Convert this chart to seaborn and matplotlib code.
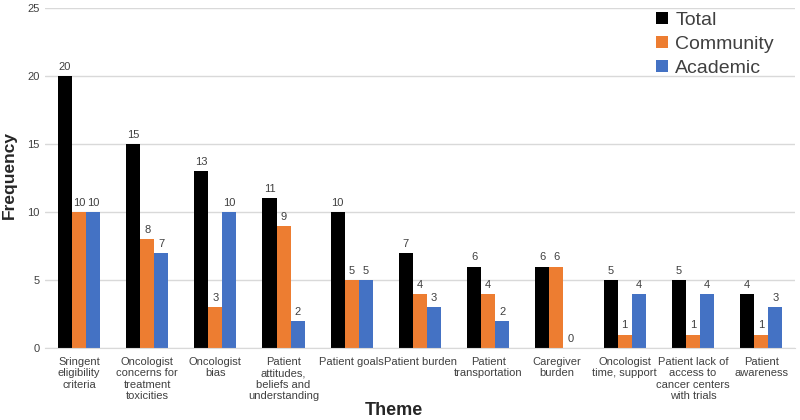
import pandas as pd
import numpy as np
import seaborn as sns
import matplotlib.pyplot as plt

themes = ["Sringent\neligibility\ncriteria", "Oncologist\nconcerns for\ntreatment\ntoxicities",
          "Oncologist\nbias", "Patient\nattitudes,\nbeliefs and\nunderstanding", "Patient goals",
          "Patient burden", "Patient\ntransportation", "Caregiver\nburden",
          "Oncologist\ntime, support", "Patient lack of\naccess to\ncancer centers\nwith trials",
          "Patient\nawareness"]
total = [20, 15, 13, 11, 10, 7, 6, 6, 5, 5, 4]
community = [10, 8, 3, 9, 5, 4, 4, 6, 1, 1, 1]
academic = [10, 7, 10, 2, 5, 3, 2, 0, 4, 4, 3]
groups = ["Total", "Community", "Academic"]
colors = ["#000000", "#ED7D31", "#4472C4"]

df = pd.DataFrame({"Theme": themes, "Total": total, "Community": community, "Academic": academic})
df = df.melt(id_vars="Theme", var_name="Group", value_name="Frequency")

sns.set_style("white")
plt.rcParams["font.family"] = ["Liberation Sans", "DejaVu Sans"]

fig, ax = plt.subplots(figsize=(8, 4.2), dpi=100)
fig.subplots_adjust(left=0.056, right=0.994, bottom=0.171, top=0.981)

sns.barplot(data=df, x="Theme", y="Frequency", hue="Group", hue_order=groups,
            palette=colors, width=0.62, saturation=1, linewidth=0, ax=ax)

for c in ax.containers:
    ax.bar_label(c, padding=3, fontsize=8, color="#404040")

ax.set_ylim(0, 25)
ax.set_yticks([0, 5, 10, 15, 20, 25])
ax.yaxis.grid(True, color="#d9d9d9", linewidth=1)
ax.set_axisbelow(True)
for s in ["top", "right", "left"]:
    ax.spines[s].set_visible(False)
ax.spines["bottom"].set_color("#d9d9d9")
ax.tick_params(axis="both", length=0, labelsize=8, colors="#404040")
ax.tick_params(axis="x", pad=6)
ax.set_xlim(-0.5, len(themes) - 0.5)

ax.set_xlabel("Theme", fontsize=13, fontweight="bold")
ax.xaxis.label.set_va("center")
ax.xaxis.set_label_coords(0.465, -0.182)
ax.set_ylabel("Frequency", fontsize=12.5, fontweight="bold")
ax.yaxis.label.set_va("center")
ax.yaxis.set_label_coords(-0.047, 0.509)

leg = ax.legend(loc="upper right", bbox_to_anchor=(0.995, 1.04), frameon=False,
                fontsize=14, handlelength=0.6, handleheight=0.6, handletextpad=0.4,
                labelspacing=0.35, labelcolor="#404040")

plt.savefig("out.png")
